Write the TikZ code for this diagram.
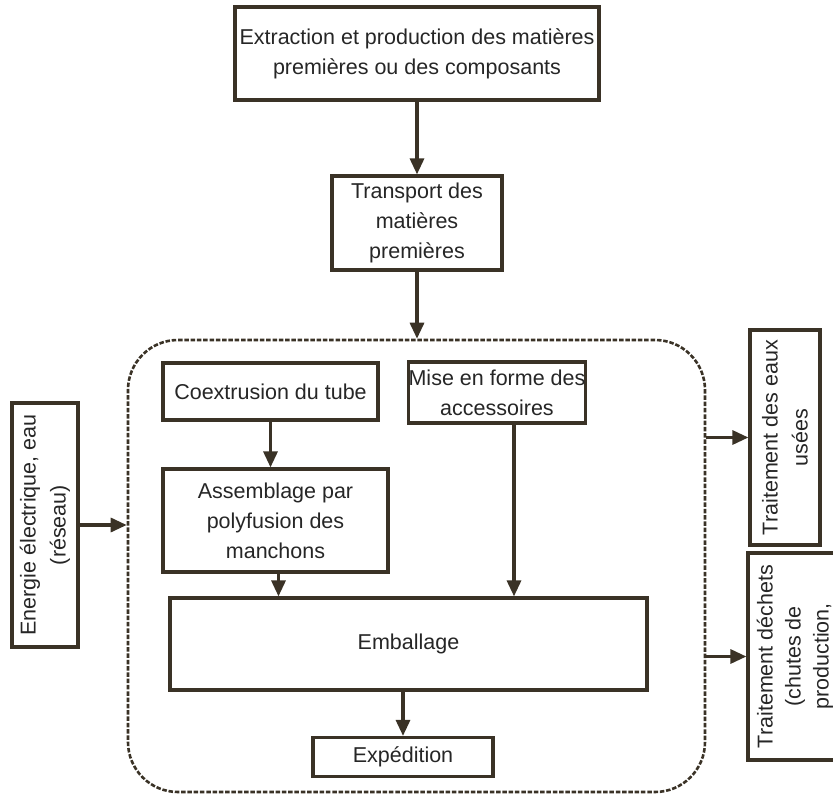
\documentclass[tikz,border=0pt]{standalone}
\usepackage{fontspec}
\setmainfont{Liberation Sans}
\usetikzlibrary{arrows.meta,calc}
\definecolor{ln}{HTML}{3A3226}
\definecolor{tx}{HTML}{262626}
\begin{document}
\begin{tikzpicture}[x=1pt,y=-1pt,
  box/.style={draw=ln,line width=3.2pt,fill=white,text=tx,
    font=\fontsize{21.5}{30}\selectfont,align=center,inner sep=0pt,rectangle},
  arr/.style={draw=ln,line width=3.2pt,-{Triangle[width=14pt,length=16pt]}},
  procbox/.style={draw=ln,line width=2.6pt,dash pattern=on 4.5pt off 1.8pt,
    rounded corners=50pt,inner sep=0pt,rectangle}]
\useasboundingbox[fill=white] (0,0) rectangle (833,803);

\node[box,minimum width=364,minimum height=93] (ext) at (417,53.5)
  {Extraction et production des matières\\premières ou des composants};
\node[box,minimum width=170,minimum height=94] (tr) at (417,223)
  {Transport des\\matières\\premières};
\node[procbox,minimum width=577,minimum height=452] (proc) at (416.5,566) {};
\node[box,minimum width=215,minimum height=57] (coex) at (270.5,391.5)
  {Coextrusion du tube};
\node[box,minimum width=168,minimum height=61] (mise) at (497,392.5)
  {Mise en forme des\\accessoires};
\node[box,minimum width=225,minimum height=103] (assem) at (275.5,520.5)
  {Assemblage par\\polyfusion des\\manchons};
\node[box,minimum width=477,minimum height=92] (emb) at (408.5,644)
  {Emballage};
\node[box,minimum width=180,minimum height=39] (exp) at (403,757)
  {Expédition};
\node[box,rotate=90,minimum width=244,minimum height=66] (en) at (45,525)
  {Energie électrique, eau\\(réseau)};
\node[box,rotate=90,minimum width=215,minimum height=70] (eaux) at (785,437.5)
  {Traitement des eaux\\usées};
\node[box,rotate=90,minimum width=207,minimum height=94,
  font=\fontsize{21.5}{28}\selectfont] (dech) at (795,656.5)
  {Traitement déchets\\(chutes de\\production,};

\draw[arr] (ext.south) -- (tr.north);
\draw[arr] (tr.south) -- (tr.south |- proc.north);
\draw[arr] (en.south) -- (en.south -| proc.west);
\draw[arr] (eaux.north -| proc.east) -- (eaux.north);
\draw[arr] (dech.north -| proc.east) -- (dech.north);
\draw[arr] (coex.south) -- (coex.south |- assem.north);
\draw[arr] ([xshift=3pt]assem.south) -- ([xshift=3pt]assem.south |- emb.north);
\draw[arr] ([xshift=17pt]mise.south) -- ([xshift=17pt]mise.south |- emb.north);
\draw[arr] (exp.north |- emb.south) -- (exp.north);
\end{tikzpicture}
\end{document}
